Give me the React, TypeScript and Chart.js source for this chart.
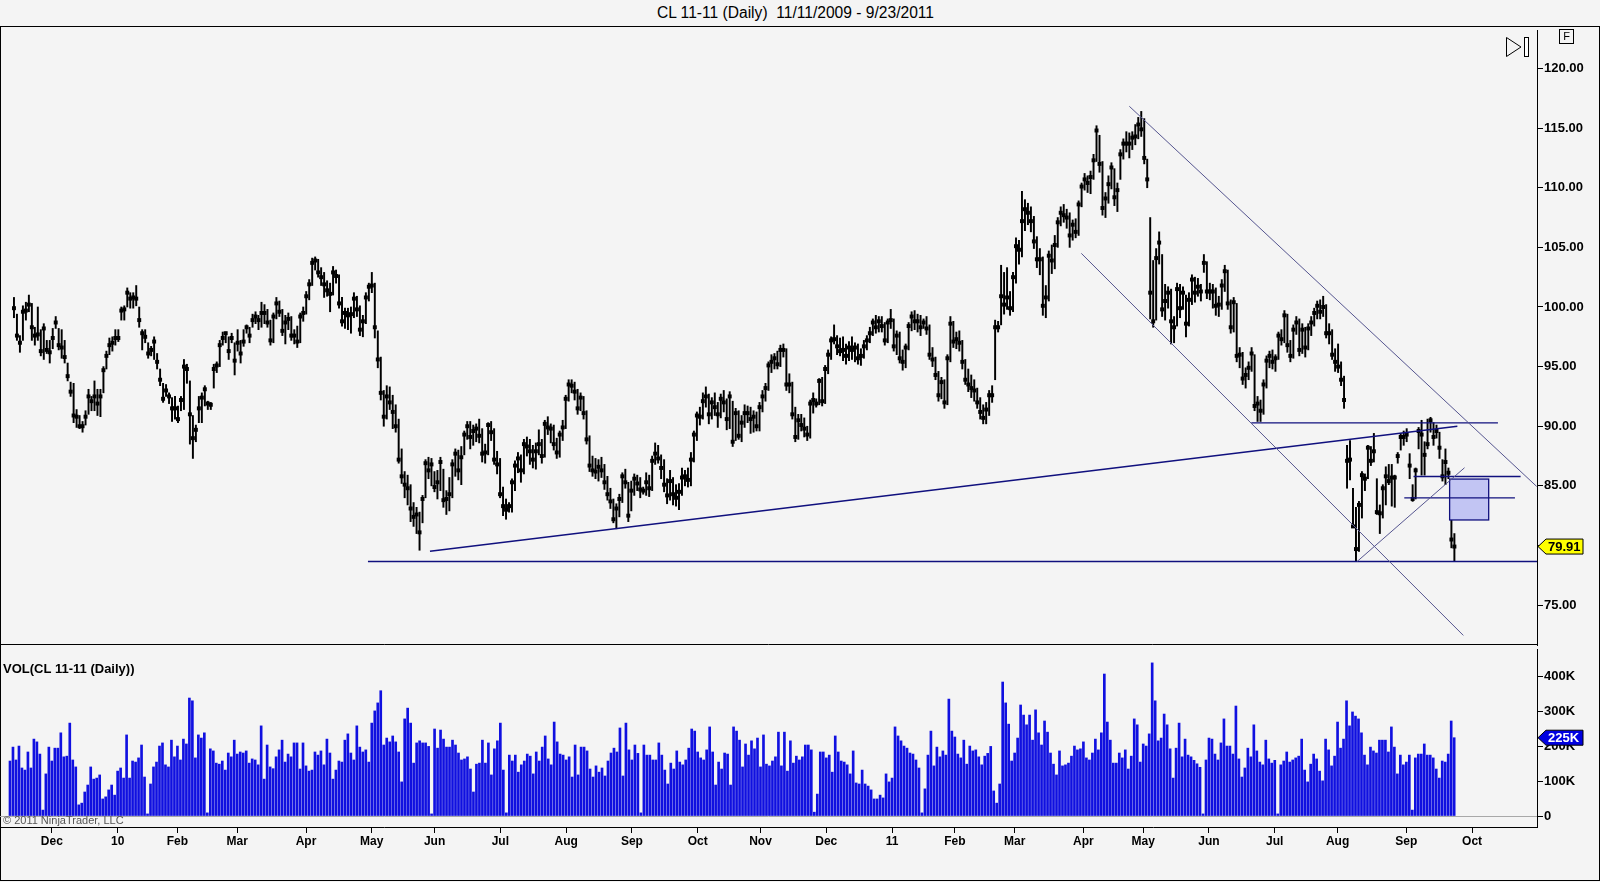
import React, { useEffect, useRef } from 'react';
import { Chart, registerables } from 'chart.js';

Chart.register(...registerables);
Chart.defaults.font.family = "'Liberation Sans', Arial, sans-serif";

// daily bars, index 0 = 11/11/2009 ... 483 = 9/23/2011 (holiday sessions included)
const highs = [
  100.8, 99.4, 97.6, 100.1, 100.4, 101.0, 100.3, 98.3, 100.0, 98.1,
  98.6, 97.2, 97.2, 98.2, 99.2, 98.2, 98.1, 97.2, 95.3, 93.7,
  93.6, 91.4, 90.9, 90.4, 91.3, 93.1, 92.5, 93.8, 93.1, 93.1,
  95.0, 96.3, 97.4, 97.5, 98.1, 98.1, 100.0, 100.1, 101.6, 101.2,
  101.2, 101.8, 100.0, 98.1, 98.1, 97.0, 96.7, 97.5, 96.1, 94.8,
  93.6, 93.5, 92.8, 92.4, 92.5, 91.7, 92.5, 95.6, 95.2, 93.8,
  90.9, 90.1, 92.5, 92.8, 93.4, 92.1, 92.0, 95.2, 95.4, 97.2,
  97.9, 97.9, 97.5, 97.8, 97.0, 98.1, 97.2, 98.1, 98.5, 98.3,
  99.4, 99.6, 99.3, 100.4, 100.2, 99.8, 98.9, 99.5, 100.8, 100.5,
  99.8, 99.3, 99.5, 99.2, 98.1, 98.4, 99.5, 100.0, 101.3, 102.3,
  104.1, 104.2, 104.0, 103.3, 102.9, 102.2, 102.0, 103.4, 103.1, 102.7,
  100.8, 99.9, 99.9, 100.0, 101.2, 100.9, 100.1, 99.3, 101.2, 102.0,
  102.9, 102.0, 98.0, 95.8, 93.0, 93.4, 93.3, 92.6, 91.8, 90.6,
  88.1, 86.2, 85.9, 85.1, 83.6, 83.2, 82.8, 84.2, 87.2, 87.4,
  87.3, 86.2, 86.3, 87.4, 86.4, 84.6, 85.7, 87.2, 88.1, 88.0,
  88.3, 89.6, 90.4, 90.4, 90.1, 90.2, 90.6, 89.8, 88.5, 90.3,
  90.4, 89.8, 87.9, 87.3, 84.9, 83.9, 83.6, 85.6, 87.1, 87.8,
  87.6, 88.9, 89.1, 88.9, 88.4, 88.6, 89.7, 88.9, 90.5, 90.8,
  90.2, 90.1, 89.0, 89.6, 90.5, 92.6, 93.9, 93.9, 93.7, 93.1,
  92.8, 92.5, 91.3, 89.2, 87.5, 87.3, 87.2, 87.4, 86.8, 85.8,
  84.8, 83.9, 83.5, 84.3, 86.1, 86.4, 85.3, 85.4, 86.0, 85.9,
  85.7, 84.9, 86.1, 85.9, 87.5, 88.6, 88.4, 87.6, 87.2, 85.6,
  86.3, 85.7, 85.1, 85.2, 86.5, 86.3, 86.5, 87.8, 89.6, 91.2,
  91.6, 92.8, 93.3, 92.7, 92.4, 92.8, 92.0, 92.7, 93.0, 92.3,
  92.9, 92.1, 91.5, 91.3, 90.9, 91.8, 91.7, 91.6, 91.3, 91.2,
  92.0, 93.0, 93.6, 95.4, 96.0, 96.1, 96.3, 96.8, 96.9, 96.5,
  94.4, 93.7, 91.6, 91.0, 91.0, 90.7, 90.0, 92.2, 92.8, 92.3,
  94.0, 94.1, 95.1, 96.4, 97.5, 98.5, 97.6, 97.4, 97.5, 96.9,
  97.1, 97.5, 97.0, 96.9, 96.5, 97.2, 97.6, 98.3, 99.0, 99.3,
  99.2, 99.2, 98.7, 99.0, 99.8, 99.0, 98.0, 97.9, 96.4, 96.9,
  98.7, 99.6, 99.7, 99.4, 99.3, 99.0, 99.2, 98.5, 96.6, 95.8,
  94.6, 94.1, 93.9, 96.0, 99.2, 98.8, 97.9, 98.0, 97.2, 95.6,
  94.8, 94.3, 93.9, 93.2, 92.4, 91.8, 92.0, 93.0, 93.4, 98.9,
  98.8, 103.5, 102.9, 103.3, 101.3, 102.9, 105.8, 105.6, 109.7, 109.0,
  108.7, 108.4, 107.6, 105.9, 104.9, 104.2, 101.8, 104.7, 105.2, 106.0,
  107.5, 108.4, 108.6, 108.2, 107.9, 107.3, 107.4, 108.9, 110.4, 111.2,
  111.0, 111.4, 112.8, 115.2, 114.4, 112.2, 109.6, 111.0, 112.1, 111.6,
  110.4, 113.2, 114.1, 114.7, 114.6, 114.7, 115.3, 115.9, 116.4, 115.8,
  112.4, 107.5, 103.9, 104.9, 106.3, 104.4, 101.9, 101.7, 101.5, 99.2,
  102.0, 101.9, 101.7, 101.0, 101.2, 102.7, 102.5, 102.4, 101.9, 104.4,
  103.8, 102.0, 101.9, 101.6, 100.9, 102.3, 103.5, 103.1, 100.6, 100.8,
  100.3, 96.6, 96.2, 94.9, 95.4, 96.6, 96.0, 92.5, 92.2, 93.9,
  95.9, 96.3, 96.4, 96.0, 97.9, 98.1, 99.7, 99.4, 97.2, 98.5,
  99.2, 99.0, 98.6, 98.3, 98.6, 99.2, 99.9, 100.5, 100.6, 100.9,
  100.2, 98.6, 98.1, 96.5, 96.9, 95.4, 94.2, 88.4, 88.8, 84.8,
  83.2, 83.7, 86.2, 86.0, 88.4, 88.3, 89.4, 85.6, 83.4, 85.1,
  86.6, 86.8, 86.8, 85.9, 87.8, 89.4, 89.6, 89.8, 87.7, 85.1,
  86.5, 89.9, 90.5, 88.7, 90.6, 90.75, 90.3, 90.1, 89.5, 87.2,
  88.1, 86.5, 82.2, 81.0,
];

const lows = [
  99.1, 97.2, 96.2, 97.2, 98.9, 99.6, 97.2, 96.8, 97.2, 95.9,
  95.6, 96.1, 95.3, 96.5, 98.2, 96.4, 95.7, 95.3, 93.8, 92.5,
  90.3, 89.9, 89.8, 89.5, 90.1, 91.0, 91.3, 91.3, 90.9, 90.8,
  92.8, 94.8, 96.0, 96.3, 96.8, 97.1, 98.9, 98.9, 100.0, 99.9,
  99.9, 100.1, 98.3, 96.4, 97.0, 95.7, 95.9, 95.6, 94.8, 93.4,
  92.0, 92.5, 91.9, 90.4, 90.6, 90.3, 91.3, 91.4, 93.6, 88.5,
  87.3, 88.7, 90.3, 90.3, 91.7, 91.4, 91.4, 93.2, 94.5, 95.0,
  96.8, 97.0, 95.6, 97.0, 94.3, 96.3, 95.3, 96.7, 97.8, 97.0,
  98.3, 98.6, 98.1, 98.3, 98.6, 98.3, 96.8, 97.0, 99.0, 99.2,
  97.6, 96.9, 98.1, 97.2, 96.9, 96.6, 97.0, 98.8, 99.4, 100.6,
  101.8, 103.1, 102.5, 101.8, 100.8, 100.9, 99.6, 101.0, 102.0, 99.9,
  98.4, 98.2, 98.1, 97.8, 99.1, 99.2, 97.6, 97.5, 98.6, 100.5,
  101.2, 97.4, 94.9, 92.2, 90.0, 90.6, 91.4, 89.8, 89.5, 86.9,
  85.2, 84.0, 83.4, 82.0, 81.6, 81.0, 79.6, 81.9, 84.0, 85.6,
  85.0, 84.5, 83.9, 84.6, 83.2, 82.6, 82.9, 84.0, 85.8, 85.5,
  85.1, 87.6, 88.9, 88.1, 88.4, 88.7, 88.6, 87.0, 86.9, 87.6,
  88.8, 86.8, 86.0, 84.0, 82.5, 82.2, 82.8, 82.8, 84.6, 86.1,
  85.3, 86.0, 87.5, 86.8, 86.5, 86.4, 87.6, 86.9, 87.4, 89.3,
  88.6, 88.0, 87.3, 87.4, 88.8, 89.8, 92.1, 92.8, 92.2, 91.0,
  91.3, 90.6, 88.5, 86.2, 85.8, 85.6, 85.4, 85.7, 84.7, 83.8,
  83.1, 81.9, 81.4, 82.4, 83.6, 84.8, 82.0, 82.9, 84.2, 84.6,
  84.0, 84.3, 84.2, 84.1, 84.6, 86.8, 86.9, 85.6, 84.5, 83.5,
  83.8, 83.4, 83.3, 83.0, 84.2, 85.0, 84.9, 85.0, 87.0, 88.8,
  90.1, 90.6, 91.6, 90.2, 90.6, 90.9, 89.9, 90.7, 91.2, 89.7,
  89.8, 88.3, 88.8, 88.9, 88.7, 89.9, 90.3, 89.4, 89.5, 89.6,
  89.6, 91.2, 92.1, 93.0, 94.5, 94.8, 94.8, 95.0, 95.8, 93.0,
  92.8, 90.6, 88.7, 88.9, 89.6, 89.1, 88.8, 89.0, 91.1, 91.6,
  91.8, 91.7, 91.9, 94.4, 95.6, 96.9, 96.0, 95.9, 95.5, 95.2,
  95.5, 95.6, 95.4, 95.2, 95.1, 95.7, 96.4, 97.0, 97.6, 97.8,
  97.9, 97.9, 96.8, 97.0, 98.2, 96.3, 96.0, 95.3, 94.7, 94.9,
  96.4, 98.0, 98.1, 97.9, 97.6, 98.2, 97.7, 95.6, 95.0, 93.9,
  92.1, 92.3, 91.5, 91.8, 95.4, 96.6, 96.5, 96.3, 94.8, 93.5,
  92.9, 92.4, 92.1, 91.5, 90.6, 90.2, 90.2, 90.9, 92.0, 93.9,
  97.9, 98.5, 99.4, 99.8, 99.3, 99.6, 102.0, 103.6, 104.2, 106.4,
  106.9, 106.3, 104.9, 103.3, 102.7, 99.3, 99.1, 100.5, 102.8, 103.2,
  105.0, 106.8, 107.1, 106.6, 105.0, 105.6, 105.8, 106.0, 108.4, 109.8,
  109.6, 109.5, 110.7, 112.2, 111.3, 107.7, 107.5, 108.7, 109.9, 108.5,
  108.0, 110.7, 112.4, 113.0, 112.5, 113.2, 113.6, 114.1, 114.3, 112.0,
  110.0, 99.0, 98.3, 98.9, 103.6, 99.2, 98.9, 99.9, 96.9, 97.0,
  98.4, 99.1, 99.8, 97.5, 98.4, 100.2, 100.4, 100.9, 100.5, 102.9,
  100.7, 100.6, 99.9, 99.3, 99.2, 99.8, 101.3, 99.8, 97.8, 97.9,
  95.4, 94.9, 93.5, 93.2, 93.9, 94.6, 91.3, 90.4, 90.4, 91.0,
  93.2, 94.9, 94.8, 94.6, 95.6, 96.8, 97.0, 96.2, 95.4, 95.7,
  97.7, 95.9, 96.1, 95.8, 96.4, 97.6, 98.4, 99.0, 99.0, 99.2,
  97.4, 96.9, 95.6, 94.6, 94.5, 93.4, 91.5, 84.8, 85.5, 81.5,
  78.7, 79.5, 82.3, 84.6, 85.6, 86.7, 87.0, 82.6, 81.0, 82.3,
  83.4, 85.1, 83.3, 83.2, 86.9, 88.0, 88.4, 88.7, 85.6, 83.7,
  83.9, 88.1, 85.9, 85.9, 88.1, 89.5, 88.4, 89.0, 87.3, 85.4,
  85.1, 85.6, 79.8, 78.7,
];

const closes = [
  99.9, 97.6, 97.0, 99.6, 99.7, 100.2, 98.3, 97.6, 97.7, 96.3,
  98.2, 96.4, 96.2, 97.4, 98.7, 96.8, 96.6, 95.8, 94.2, 92.9,
  90.9, 90.8, 90.0, 90.0, 90.8, 92.5, 92.1, 92.5, 91.9, 92.5,
  94.7, 95.9, 96.8, 97.0, 97.4, 97.4, 99.7, 99.8, 101.2, 100.7,
  100.8, 100.7, 98.9, 97.8, 97.5, 96.1, 96.4, 97.1, 95.4, 93.9,
  92.3, 93.0, 92.5, 91.5, 91.5, 90.6, 92.2, 95.0, 94.8, 91.0,
  89.0, 89.7, 91.5, 92.4, 93.1, 91.9, 91.8, 94.8, 95.1, 96.8,
  97.4, 97.8, 96.3, 97.4, 95.5, 97.0, 96.1, 97.1, 98.3, 97.6,
  98.9, 99.2, 98.9, 99.5, 99.5, 98.7, 97.2, 99.2, 100.3, 99.6,
  98.0, 98.7, 99.0, 97.6, 97.6, 97.1, 99.2, 99.5, 100.9, 101.9,
  103.7, 103.9, 102.9, 102.5, 101.9, 101.4, 101.1, 102.9, 102.6, 100.3,
  98.8, 99.5, 99.3, 99.4, 100.7, 99.8, 98.1, 98.8, 100.8, 101.7,
  101.8, 98.3, 95.6, 92.8, 90.8, 92.5, 92.0, 91.2, 90.0, 87.2,
  85.8, 85.1, 84.8, 83.1, 82.4, 82.6, 81.1, 83.9, 86.9, 86.3,
  86.8, 84.9, 85.3, 87.0, 83.8, 83.9, 84.3, 86.8, 87.7, 86.3,
  87.4, 89.3, 90.0, 89.1, 89.6, 89.8, 89.2, 87.7, 87.8, 90.1,
  89.5, 87.2, 86.8, 84.3, 83.3, 83.0, 83.3, 85.3, 86.7, 87.3,
  86.3, 88.5, 88.3, 87.9, 87.2, 87.9, 88.5, 87.5, 90.2, 89.9,
  89.8, 88.5, 87.8, 89.3, 89.9, 92.3, 93.5, 93.4, 92.9, 91.5,
  92.4, 91.1, 88.9, 86.7, 86.3, 86.2, 86.6, 86.3, 85.3, 84.3,
  83.7, 82.2, 83.1, 83.9, 85.8, 85.3, 82.5, 84.6, 85.6, 85.2,
  84.7, 84.6, 85.3, 84.8, 87.1, 87.7, 87.3, 86.5, 85.1, 84.2,
  85.4, 84.3, 84.0, 84.5, 85.7, 85.8, 85.5, 87.2, 89.3, 90.9,
  90.8, 92.1, 92.5, 91.0, 92.0, 91.6, 91.0, 92.3, 92.0, 90.6,
  92.5, 88.7, 91.1, 89.2, 90.3, 91.1, 91.1, 90.6, 90.8, 90.0,
  91.6, 92.5, 93.2, 95.1, 95.4, 95.7, 95.2, 96.4, 96.4, 93.5,
  93.5, 91.0, 89.1, 90.5, 90.1, 89.8, 89.3, 91.9, 92.2, 91.9,
  93.8, 92.1, 94.8, 96.0, 97.2, 97.3, 96.7, 96.3, 96.4, 95.9,
  96.6, 96.4, 96.6, 95.7, 95.9, 96.7, 97.2, 97.8, 98.7, 98.3,
  98.8, 98.4, 97.2, 98.7, 98.9, 96.7, 97.6, 95.7, 95.4, 96.6,
  98.4, 99.2, 98.8, 98.8, 98.3, 98.7, 98.2, 96.0, 95.6, 94.3,
  92.6, 93.7, 92.0, 95.7, 98.6, 97.1, 97.3, 97.0, 95.4, 93.9,
  93.5, 93.2, 93.0, 92.0, 91.2, 90.7, 91.4, 92.6, 92.6, 98.3,
  98.3, 100.9, 100.2, 100.8, 99.9, 102.5, 105.1, 104.8, 107.2, 108.2,
  107.9, 107.2, 105.5, 104.0, 104.0, 100.1, 100.8, 104.3, 103.9, 105.2,
  107.1, 107.9, 107.7, 107.5, 106.0, 106.9, 106.3, 108.6, 110.1, 110.7,
  110.4, 110.9, 112.3, 114.8, 112.0, 108.3, 109.1, 110.3, 111.7, 109.2,
  109.8, 112.8, 113.7, 113.7, 113.7, 114.2, 114.3, 115.3, 114.9, 112.5,
  110.7, 101.2, 98.8, 104.1, 105.4, 99.8, 100.5, 101.2, 98.8, 98.3,
  101.5, 99.9, 101.2, 98.6, 100.6, 102.3, 101.2, 101.7, 101.3, 103.7,
  101.3, 101.3, 101.3, 100.1, 100.2, 101.8, 103.0, 100.3, 98.3, 100.4,
  95.9, 96.0, 94.0, 94.3, 94.9, 96.1, 91.7, 91.9, 91.3, 93.5,
  95.5, 95.9, 95.4, 95.7, 97.6, 97.3, 99.3, 96.8, 95.9, 98.1,
  98.7, 96.4, 98.1, 96.6, 98.2, 98.7, 99.5, 100.1, 99.6, 100.0,
  97.8, 97.8, 96.0, 95.4, 95.0, 93.9, 92.2, 87.1, 87.2, 81.6,
  79.7, 83.4, 85.9, 85.6, 88.2, 87.1, 87.9, 82.8, 82.7, 84.8,
  85.8, 85.4, 85.7, 85.7, 87.5, 89.1, 89.1, 89.3, 86.7, 83.9,
  86.3, 89.6, 89.3, 87.6, 88.5, 90.5, 89.1, 89.6, 88.2, 85.8,
  87.0, 86.1, 80.5, 79.91,
];

// volume in thousands of contracts
const volumes = [
  158, 198, 161, 201, 138, 132, 184, 138, 221, 213,
  178, 17, 121, 198, 158, 195, 195, 239, 170, 172,
  267, 161, 141, 32, 37, 69, 89, 141, 106, 109,
  118, 49, 55, 75, 89, 60, 129, 138, 109, 233,
  109, 158, 155, 167, 204, 112, 6, 92, 141, 155,
  201, 210, 147, 141, 218, 170, 201, 161, 221, 207,
  339, 331, 167, 233, 224, 239, 9, 193, 187, 152,
  149, 158, 132, 181, 170, 218, 178, 184, 181, 187,
  152, 164, 161, 147, 259, 106, 204, 141, 136, 170,
  190,
  218, 155, 178, 170, 210, 210, 135, 210, 144, 129,
  132, 184, 175, 187, 147, 221, 181, 106, 132, 158,
  155, 218, 236, 181, 161, 259, 198, 184, 190, 155,
  267, 302, 325, 360, 204, 224, 213, 230, 213, 184,
  98, 279, 310, 267, 152, 210, 216, 210, 210, 200,
  6,
  250, 195, 247, 221, 198, 198, 218, 204, 181, 161,
  164, 170, 135, 69, 149, 152, 218, 152, 210, 118,
  193, 216, 267, 132,
  9,
  175, 158, 175, 126, 147, 158, 178, 172, 121, 184,
  158, 198, 230, 164, 147, 270, 213, 178, 175, 161,
  170, 112, 204, 118, 198, 198, 187, 135, 112, 144,
  126, 138, 115, 158, 181, 195, 184, 253, 115, 267,
  190, 161, 204, 180,
  9,
  204, 175, 175, 161, 161, 210, 175, 132, 92, 152,
  135, 187, 155, 147, 161, 195, 250, 244, 184, 167,
  161, 190, 256, 184, 89, 155, 135, 181, 178, 89,
  256, 244, 218, 141, 207, 175, 216, 193, 224, 141,
  233, 149, 144, 158, 170, 241, 144, 241, 129, 216,
  152, 172, 161, 170, 204, 204, 190,
  11,
  63,
  184, 184, 167, 175, 126, 230, 184, 158, 155, 147,
  121, 187, 95, 92, 132, 92, 86, 75, 49, 49,
  60, 52, 121, 98, 109, 256, 230, 216, 201, 195,
  181, 178, 161, 138, 9,
  78, 175, 244, 144, 198, 170, 187, 175, 336, 244,
  227, 178, 167, 218, 149, 201, 187, 190, 170, 147, 172,
  180, 200, 72, 37,
  92, 385, 325, 264, 158, 181, 224, 319, 290, 262,
  290, 218, 305, 239, 204, 273, 241, 181, 149, 118,
  187, 144, 147, 152, 172, 201, 190, 193, 213, 167,
  161, 181, 221, 190, 239, 408, 270, 218, 152, 152,
  181, 167, 190, 135, 172, 279, 262, 155, 207, 201,
  236, 440,
  331, 216, 224, 293, 262, 193, 109, 195, 267, 170, 221, 175,
  170, 160, 150, 140,
  6,
  161, 224, 221, 178, 161, 210, 279, 201, 201, 178,
  316, 164, 112, 138, 195, 170, 262, 187, 155, 147,
  218, 164, 152,
  160,
  6,
  147, 158, 184, 155, 161, 167, 172,
  221, 132, 98, 149, 178, 164, 129, 101, 221, 190,
  144, 172, 270, 195, 221, 331, 259, 299, 287, 279,
  239, 175, 147, 198, 187, 181, 218, 218, 218, 184,
  256, 198, 121, 175, 147, 155, 175, 17, 167, 178,
  178, 207, 175, 175, 167, 135, 109, 158, 155, 178,
  273, 225,
];

const monthTicks = [14, 36, 56, 76, 99, 121, 142, 164, 186, 208, 230, 251, 273, 295, 316, 336, 359, 379, 401, 423, 444, 467, 489];
const monthLabels = ['Dec', '10', 'Feb', 'Mar', 'Apr', 'May', 'Jun', 'Jul', 'Aug', 'Sep', 'Oct', 'Nov', 'Dec', '11', 'Feb', 'Mar', 'Apr', 'May', 'Jun', 'Jul', 'Aug', 'Sep', 'Oct'];
const priceTicks = [75, 80, 85, 90, 95, 100, 105, 110, 115, 120];
const volumeTicks = [0, 100, 200, 300, 400];

// drawing objects, in (bar index, price)
const DARK = '#10107E';
const SOFT = '#55558F';
const trendLines = [
  { x0: 118.7, y0: 78.66, x1: 510.7, y1: 78.66, color: DARK, width: 1.4 },
  { x0: 139.5, y0: 79.52, x1: 484, y1: 90.0, color: DARK, width: 1.4 },
  { x0: 414.9, y0: 90.28, x1: 497.6, y1: 90.28, color: DARK, width: 1.4 },
  { x0: 469.3, y0: 85.78, x1: 505.2, y1: 85.78, color: DARK, width: 1.4 },
  { x0: 466.2, y0: 83.99, x1: 503.3, y1: 83.99, color: DARK, width: 1.4 },
  { x0: 450.4, y0: 78.66, x1: 486.4, y1: 86.52, color: SOFT, width: 1 },
  { x0: 374.0, y0: 116.83, x1: 510.6, y1: 84.95, color: SOFT, width: 1 },
  { x0: 357.9, y0: 104.5, x1: 486.0, y1: 72.46, color: SOFT, width: 1 },
];
const zoneBox = { x0: 481.4, y0: 85.57, x1: 494.5, y1: 82.14 };

const X_MIN = -3.34;
const X_MAX = 510.7;
const AXIS_FONT = { size: 13, weight: 'bold' as const };

function drawMarker(ctx: CanvasRenderingContext2D, left: number, yPix: number, text: string, fill: string, ink: string) {
  const x0 = left + 1;
  const h = 15;
  ctx.save();
  ctx.beginPath();
  ctx.moveTo(x0, yPix);
  ctx.lineTo(x0 + 8, yPix - h / 2);
  ctx.lineTo(x0 + 45, yPix - h / 2);
  ctx.lineTo(x0 + 45, yPix + h / 2);
  ctx.lineTo(x0 + 8, yPix + h / 2);
  ctx.closePath();
  ctx.fillStyle = fill;
  ctx.fill();
  ctx.strokeStyle = '#000';
  ctx.lineWidth = 1;
  ctx.stroke();
  ctx.fillStyle = ink;
  ctx.font = "bold 13px 'Liberation Sans', Arial, sans-serif";
  ctx.textBaseline = 'middle';
  ctx.textAlign = 'left';
  ctx.fillText(text, x0 + 10, yPix + 1);
  ctx.restore();
}

const priceOverlay = {
  id: 'priceOverlay',
  afterDatasetsDraw(chart: any) {
    const { ctx, chartArea: a, scales } = chart;
    const x = scales.x;
    const y = scales.y;
    ctx.save();
    ctx.beginPath();
    ctx.rect(a.left, a.top, a.right - a.left, a.bottom - a.top);
    ctx.clip();
    const bx0 = x.getPixelForValue(zoneBox.x0);
    const bx1 = x.getPixelForValue(zoneBox.x1);
    const by0 = y.getPixelForValue(zoneBox.y0);
    const by1 = y.getPixelForValue(zoneBox.y1);
    ctx.fillStyle = '#C2C5F3';
    ctx.fillRect(bx0, by0, bx1 - bx0, by1 - by0);
    ctx.strokeStyle = DARK;
    ctx.lineWidth = 1.3;
    ctx.strokeRect(bx0, by0, bx1 - bx0, by1 - by0);
    for (const ln of trendLines) {
      ctx.strokeStyle = ln.color;
      ctx.lineWidth = ln.width;
      ctx.beginPath();
      ctx.moveTo(x.getPixelForValue(ln.x0), y.getPixelForValue(ln.y0));
      ctx.lineTo(x.getPixelForValue(ln.x1), y.getPixelForValue(ln.y1));
      ctx.stroke();
    }
    ctx.restore();
  },
  afterDraw(chart: any) {
    const { ctx, chartArea: a, scales } = chart;
    ctx.save();
    ctx.strokeStyle = '#000';
    ctx.lineWidth = 1;
    ctx.beginPath();
    ctx.moveTo(0, a.bottom - 0.5);
    ctx.lineTo(a.right, a.bottom - 0.5);
    ctx.stroke();
    ctx.restore();
    const last = closes[closes.length - 1];
    drawMarker(ctx, a.right, scales.y.getPixelForValue(last), last.toFixed(2), '#FFFF00', '#000');
  },
};

const volumeOverlay = {
  id: 'volumeOverlay',
  afterDraw(chart: any) {
    const { ctx, chartArea: a, scales } = chart;
    ctx.save();
    ctx.fillStyle = '#000';
    ctx.font = "bold 13px 'Liberation Sans', Arial, sans-serif";
    ctx.textBaseline = 'alphabetic';
    ctx.textAlign = 'left';
    ctx.fillText('VOL(CL 11-11 (Daily))', 3, a.top + 24);
    ctx.fillStyle = '#555';
    ctx.font = "11px 'Liberation Sans', Arial, sans-serif";
    ctx.fillText('\u00A9 2011 NinjaTrader, LLC', 3, a.bottom - 3);
    ctx.restore();
    const last = volumes[volumes.length - 1];
    drawMarker(ctx, a.right, scales.y.getPixelForValue(last), `${last}K`, '#0000E0', '#FFF');
  },
};

export default function App() {
  const priceRef = useRef<HTMLCanvasElement | null>(null);
  const volRef = useRef<HTMLCanvasElement | null>(null);

  useEffect(() => {
    document.body.style.margin = '0';
    const pCanvas = priceRef.current;
    const vCanvas = volRef.current;
    if (!pCanvas || !vCanvas) return;

    const priceChart = new Chart(pCanvas, {
      type: 'bar',
      data: {
        datasets: [
          {
            type: 'bar',
            data: closes.map((_, i) => ({ x: i, y: [lows[i], highs[i]] })) as any,
            backgroundColor: '#000',
            borderWidth: 0,
            barThickness: 1.3,
          },
          {
            type: 'scatter',
            data: closes.map((c, i) => ({ x: i, y: c })),
            pointStyle: 'rect',
            pointRadius: 2.8,
            pointBorderWidth: 0,
            backgroundColor: '#000',
            borderColor: '#000',
          } as any,
        ],
      },
      options: {
        animation: false,
        responsive: false,
        maintainAspectRatio: false,
        layout: { padding: 0 },
        plugins: { legend: { display: false }, tooltip: { enabled: false } },
        scales: {
          x: { type: 'linear', min: X_MIN, max: X_MAX, offset: false, display: false },
          y: {
            position: 'right',
            min: 71.655,
            max: 123.228,
            afterBuildTicks: (s: any) => {
              s.ticks = priceTicks.map((v) => ({ value: v }));
            },
            afterFit: (s: any) => {
              s.width = 63;
              s.paddingTop = 0;
              s.paddingBottom = 0;
            },
            ticks: {
              callback: (v: any) => Number(v).toFixed(2),
              color: '#000',
              font: AXIS_FONT,
              padding: 1,
            },
            grid: { drawOnChartArea: false, tickLength: 6, color: '#000' },
            border: { color: '#000', width: 1 },
          },
        },
      } as any,
      plugins: [priceOverlay],
    });

    const volumeChart = new Chart(vCanvas, {
      type: 'bar',
      data: {
        datasets: [
          {
            data: volumes.map((v, i) => ({ x: i, y: v })) as any,
            backgroundColor: '#1010E0',
            borderWidth: 0,
            barThickness: 2,
          },
        ],
      },
      options: {
        animation: false,
        responsive: false,
        maintainAspectRatio: false,
        layout: { padding: 0 },
        plugins: { legend: { display: false }, tooltip: { enabled: false } },
        scales: {
          x: {
            type: 'linear',
            min: X_MIN,
            max: X_MAX,
            offset: false,
            afterBuildTicks: (s: any) => {
              s.ticks = monthTicks.map((v) => ({ value: v }));
            },
            afterFit: (s: any) => {
              s.height = 53;
              s.paddingLeft = 0;
              s.paddingRight = 0;
            },
            ticks: {
              autoSkip: false,
              maxRotation: 0,
              callback: (v: any) => monthLabels[monthTicks.indexOf(Number(v))] ?? '',
              color: '#000',
              font: { size: 12, weight: 'bold' },
              padding: 1,
            },
            grid: { drawOnChartArea: false, tickLength: 6, color: '#000', offset: false },
            border: { color: '#000', width: 1 },
          },
          y: {
            position: 'right',
            min: -31.6,
            max: 479.9,
            afterBuildTicks: (s: any) => {
              s.ticks = volumeTicks.map((v) => ({ value: v }));
            },
            afterFit: (s: any) => {
              s.width = 63;
              s.paddingTop = 0;
              s.paddingBottom = 0;
            },
            ticks: {
              callback: (v: any) => (Number(v) === 0 ? '0' : `${v}K`),
              color: '#000',
              font: AXIS_FONT,
              padding: 1,
            },
            grid: {
              drawOnChartArea: true,
              tickLength: 6,
              color: (c: any) => (c.tick && c.tick.value === 0 ? '#A8A8A8' : 'rgba(0,0,0,0)'),
              tickColor: '#000',
            },
            border: { color: '#000', width: 1 },
          },
        },
      } as any,
      plugins: [volumeOverlay],
    });

    return () => {
      priceChart.destroy();
      volumeChart.destroy();
    };
  }, []);

  return (
    <div
      style={{
        position: 'absolute',
        left: 0,
        top: 0,
        width: 1600,
        height: 882,
        overflow: 'hidden',
        background: '#F4F4F4',
        fontFamily: "'Liberation Sans', Arial, sans-serif",
      }}
    >
      <div
        style={{
          position: 'absolute',
          left: 0,
          top: 3,
          width: 1591,
          textAlign: 'center',
          fontSize: 15.6,
          lineHeight: '19px',
          color: '#000',
          whiteSpace: 'pre',
        }}
      >
        {'CL 11-11 (Daily)  11/11/2009 - 9/23/2011'}
      </div>
      <div
        style={{
          position: 'absolute',
          left: 0,
          top: 26,
          width: 1600,
          height: 855,
          border: '1px solid #000',
          boxSizing: 'border-box',
        }}
      />
      <canvas ref={priceRef} width={1600} height={623} style={{ position: 'absolute', left: 0, top: 26 }} />
      <canvas ref={volRef} width={1600} height={231} style={{ position: 'absolute', left: 0, top: 649 }} />
      <svg width={26} height={24} style={{ position: 'absolute', left: 1505, top: 35 }}>
        <polygon points="1.5,2.5 16,12 1.5,21.5" fill="none" stroke="#000" strokeWidth={1} />
        <rect x={19.5} y={2.5} width={4} height={19} fill="#FFF" stroke="#000" strokeWidth={1} />
      </svg>
      <div
        style={{
          position: 'absolute',
          left: 1559,
          top: 29,
          width: 15,
          height: 15,
          border: '1px solid #000',
          boxSizing: 'border-box',
          fontSize: 11,
          lineHeight: '13px',
          textAlign: 'center',
          color: '#000',
        }}
      >
        F
      </div>
    </div>
  );
}
